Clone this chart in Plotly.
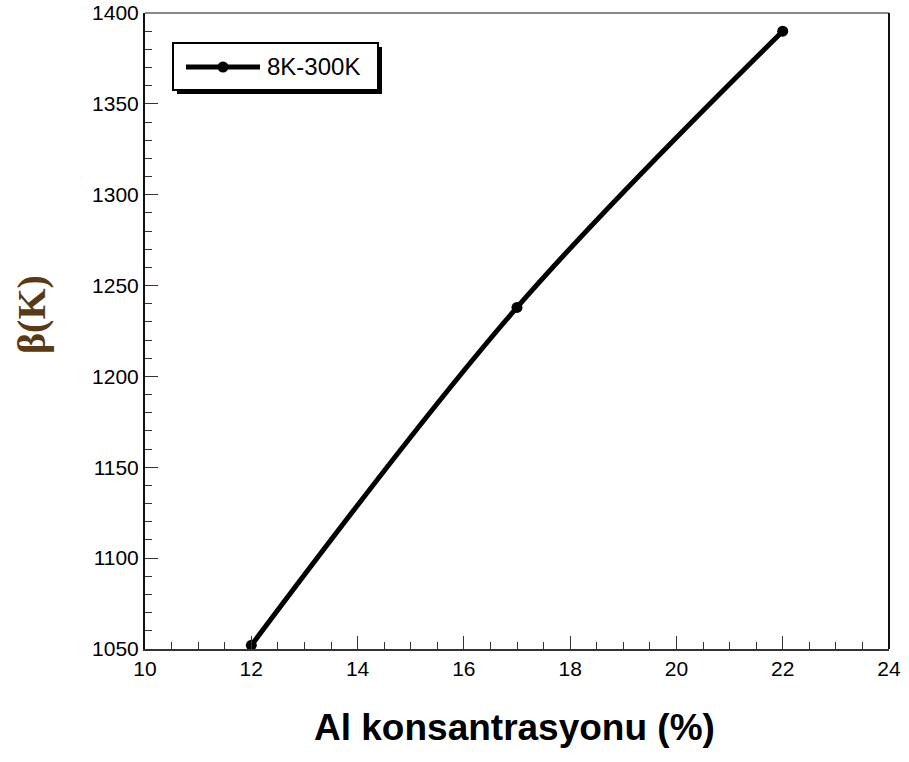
import plotly.graph_objects as go

# Aluminium concentration (%) and the resulting beta parameter (K)
al_concentration = [12, 17, 22]
beta_values = [1052, 1238, 1390]
series_name = "8K-300K"

x_title = "Al konsantrasyonu (%)"
y_title = "β(K)"

fig = go.Figure()

fig.add_trace(go.Scatter(
    x=al_concentration,
    y=beta_values,
    mode="lines+markers",
    name=series_name,
    line=dict(color="black", width=5, shape="spline", smoothing=1.0),
    marker=dict(color="black", size=11),
    cliponaxis=False,
    showlegend=False,
))

axis_font = dict(family="Liberation Sans, Arial, sans-serif", size=21, color="black")

fig.update_xaxes(
    range=[10, 24], dtick=2, tick0=10, automargin=False,
    ticks="inside", ticklen=13, tickwidth=1.2, tickcolor="#333",
    minor=dict(dtick=0.5, ticks="inside", ticklen=7, tickwidth=1, tickcolor="#333"),
    showline=True, linecolor="#333", linewidth=2,
    showgrid=False, zeroline=False,
    tickfont=axis_font,
)
fig.update_yaxes(
    range=[1050, 1400], dtick=50, tick0=1050, automargin=False,
    ticks="inside", ticklen=13, tickwidth=1.2, tickcolor="#333",
    minor=dict(dtick=10, ticks="inside", ticklen=7, tickwidth=1, tickcolor="#333"),
    showline=True, linecolor="#111", linewidth=2,
    showgrid=False, zeroline=False,
    tickfont=axis_font,
)

# Frame: top edge in grey, right edge in black
fig.add_shape(type="line", xref="paper", yref="paper", x0=0, x1=1, y0=1, y1=1,
              line=dict(color="#888", width=2))
fig.add_shape(type="line", xref="paper", yref="paper", x0=1, x1=1, y0=0, y1=1,
              line=dict(color="#111", width=2))

# Legend box with drop shadow
plot_w = 909 - 145 - 20
plot_h = 762 - 13 - 113
def px(xp):
    return (xp - 145) / plot_w
def py(yp):
    return 1 - (yp - 13) / plot_h

fig.add_shape(type="rect", xref="paper", yref="paper",
              x0=px(177), x1=px(382), y0=py(47), y1=py(94),
              fillcolor="black", line=dict(width=0), layer="above")
fig.add_shape(type="rect", xref="paper", yref="paper",
              x0=px(173), x1=px(378), y0=py(43), y1=py(90),
              fillcolor="white", line=dict(color="black", width=2), layer="above")
fig.add_shape(type="line", xref="paper", yref="paper",
              x0=px(186), x1=px(260), y0=py(67), y1=py(67),
              line=dict(color="black", width=5), layer="above")
fig.add_shape(type="circle", xref="paper", yref="paper",
              x0=px(217.5), x1=px(228.5), y0=py(61.5), y1=py(72.5),
              fillcolor="black", line=dict(width=0), layer="above")
fig.add_annotation(xref="paper", yref="paper", x=px(265), y=py(67),
                   text=series_name, showarrow=False, xanchor="left", yanchor="middle",
                   font=dict(family="Liberation Sans, Arial, sans-serif", size=24, color="black"))

# Axis titles
fig.add_annotation(xref="paper", yref="paper", x=px(514), y=py(727),
                   text="<b>" + x_title + "</b>", showarrow=False,
                   xanchor="center", yanchor="middle",
                   font=dict(family="Liberation Sans, Arial, sans-serif", size=37, color="black"))
fig.add_annotation(xref="paper", yref="paper", x=px(31), y=py(315),
                   text="<b>" + y_title + "</b>", showarrow=False, textangle=-90,
                   xanchor="center", yanchor="middle",
                   font=dict(family="Liberation Serif, Times New Roman, serif", size=40, color="#5a3a14"))

fig.update_layout(
    width=909, height=762,
    margin=dict(l=145, r=20, t=13, b=113, autoexpand=False),
    paper_bgcolor="white", plot_bgcolor="white",
    showlegend=False,
)

fig.write_html("out.html")
